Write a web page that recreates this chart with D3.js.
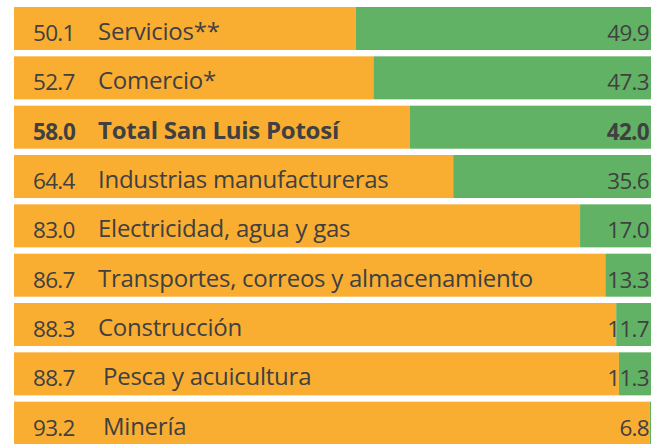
<!DOCTYPE html>
<html><head><meta charset="utf-8">
<script src="https://cdn.jsdelivr.net/npm/d3@7"></script>
<style>html,body{margin:0;padding:0;background:#fff;overflow:hidden}</style>
</head><body>
<svg id="c" width="651" height="444"></svg>
<script>
const categories = ["Servicios**","Comercio*","Total San Luis Potosí","Industrias manufactureras","Electricidad, agua y gas","Transportes, correos y almacenamiento","Construcción","Pesca y acuicultura","Minería"];
const leftValues = [50.1,52.7,58.0,64.4,83.0,86.7,88.3,88.7,93.2];
const rightValues = [49.9,47.3,42.0,35.6,17.0,13.3,11.7,11.3,6.8];
const boldRows = ["Total San Luis Potosí"];

const svg = d3.select("#c");
const x = d3.scaleLinear().domain([0,100]).range([14,696]);
const y = d3.scaleBand().domain(categories).range([7,444.7]).paddingInner(0.128).paddingOuter(0);
const orange = "#F9AE32", green = "#62B265", txt = "#404041";
const rows = svg.selectAll("g.row").data(categories.map((c,i)=>({c,l:leftValues[i],r:rightValues[i]}))).join("g").attr("class","row");
rows.append("rect").attr("x",x(0)).attr("y",d=>y(d.c)).attr("width",d=>x(d.l)-x(0)).attr("height",y.bandwidth()).attr("fill",orange);
rows.append("rect").attr("x",d=>x(d.l)).attr("y",d=>y(d.c)).attr("width",d=>x(d.l+d.r)-x(d.l)).attr("height",y.bandwidth()).attr("fill",green);
const common = s=>s.attr("font-family","'Open Sans', 'Noto Sans', sans-serif").attr("fill",txt)
  .attr("font-weight",d=>boldRows.includes(d.c)?"bold":"normal");
rows.append("text").attr("x",33).attr("y",d=>y(d.c)+34).text(d=>d.l.toFixed(1)).call(common).attr("font-size",22.5).attr("letter-spacing",-0.7);
rows.append("text").attr("x",(d,i)=>i>=7?103:98).attr("y",d=>y(d.c)+33).text(d=>d.c).call(common).attr("font-size",24).attr("letter-spacing",-0.25);
rows.append("text").attr("x",649).attr("y",d=>y(d.c)+34).attr("text-anchor","end").text(d=>d.r.toFixed(1)).call(common).attr("font-size",22.5).attr("letter-spacing",-0.7);
</script>
</body></html>
